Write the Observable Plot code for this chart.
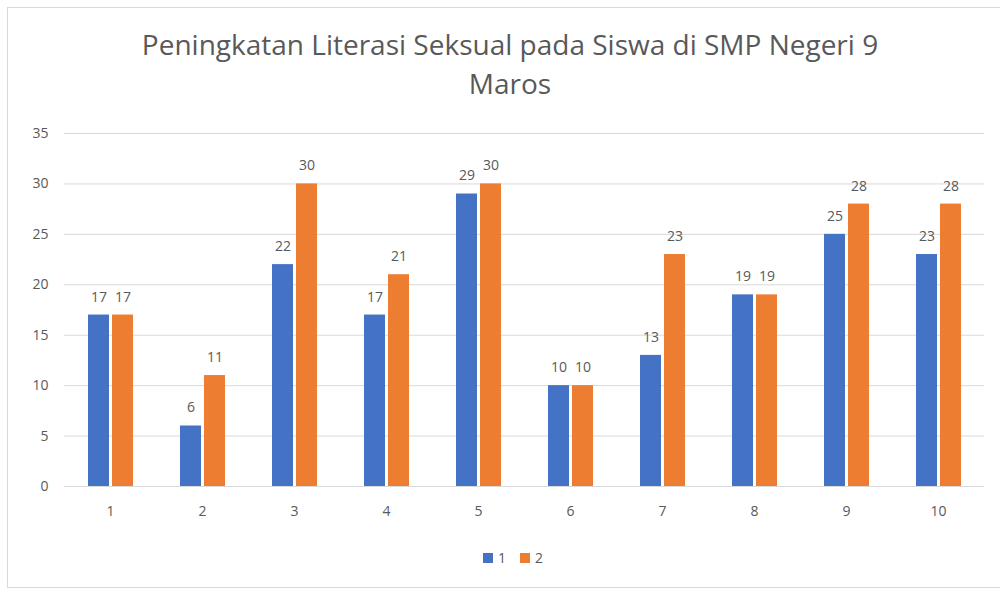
<!DOCTYPE html>
<html>
<head>
<meta charset="utf-8">
<script src="https://cdn.jsdelivr.net/npm/d3@7"></script>
<script src="https://cdn.jsdelivr.net/npm/@observablehq/plot@0.6"></script>
<style>
  body { margin: 0; background: #fff; font-family: "Open Sans", sans-serif; }
  #wrap { position: relative; width: 1000px; height: 590px; overflow: hidden; }
  #frame { position: absolute; left: 7px; top: 7px; width: 1000px; height: 579px; border: 1px solid #d9d9d9; }
  #title { position: absolute; left: 0; top: 25px; width: 1020px; text-align: center; color: #595959; font-size: 28px; line-height: 39px; font-family: "Open Sans", sans-serif; }
  #chart { position: absolute; left: 0; top: 110px; }
  #legend { position: absolute; left: 0; top: 548px; width: 1026px; display: flex; justify-content: center; gap: 14px; color: #595959; font-size: 14px; }
  .item { display: flex; align-items: center; gap: 5px; }
  .sw { width: 10px; height: 10px; display: inline-block; }
</style>
</head>
<body>
<div id="wrap">
  <div id="frame"></div>
  <div id="title">Peningkatan Literasi Seksual pada Siswa di SMP Negeri 9<br>Maros</div>
  <div id="chart"></div>
  <div id="legend"></div>
</div>
<script>
const categories = ["1","2","3","4","5","6","7","8","9","10"];
const seriesNames = ["1","2"];
const series1 = [17,6,22,17,29,10,13,19,25,23];
const series2 = [17,11,30,21,30,10,23,19,28,28];
const yTicks = [0,5,10,15,20,25,30,35];
const colors = ["#4472C4","#ED7D31"];

const data = categories.flatMap((c, i) => [
  {cat: c, series: seriesNames[0], value: series1[i]},
  {cat: c, series: seriesNames[1], value: series2[i]}
]);

const chart = Plot.plot({
  width: 1000,
  height: 420,
  marginTop: 23,
  marginBottom: 44,
  marginLeft: 62,
  marginRight: 15,
  style: {fontFamily: "Open Sans, sans-serif", fontSize: "14px", color: "#595959", background: "transparent"},
  fx: {domain: categories, padding: 0, label: null},
  x: {domain: seriesNames, axis: null, paddingInner: 0.14, paddingOuter: 0.98},
  y: {domain: [0, 35], label: null},
  color: {domain: seriesNames, range: colors},
  marks: [
    Plot.gridY(yTicks, {stroke: "#d9d9d9", strokeOpacity: 1, strokeWidth: 1}),
    Plot.axisY(yTicks, {tickSize: 0, tickPadding: 16, label: null, fill: "#595959"}),
    Plot.axisFx({anchor: "bottom", tickSize: 0, tickPadding: 20, label: null, fill: "#595959"}),
    Plot.barY(data, {fx: "cat", x: "series", y: "value", fill: "series"}),
    Plot.text(data, {fx: "cat", x: "series", y: "value", text: d => String(d.value), dy: -18, fill: "#595959", fontSize: 14})
  ]
});
document.getElementById("chart").appendChild(chart);

const legend = document.getElementById("legend");
seriesNames.forEach((s, i) => {
  const item = document.createElement("div");
  item.className = "item";
  const sw = document.createElement("span");
  sw.className = "sw";
  sw.style.background = colors[i];
  const lab = document.createElement("span");
  lab.textContent = s;
  item.appendChild(sw);
  item.appendChild(lab);
  legend.appendChild(item);
});
</script>
</body>
</html>
